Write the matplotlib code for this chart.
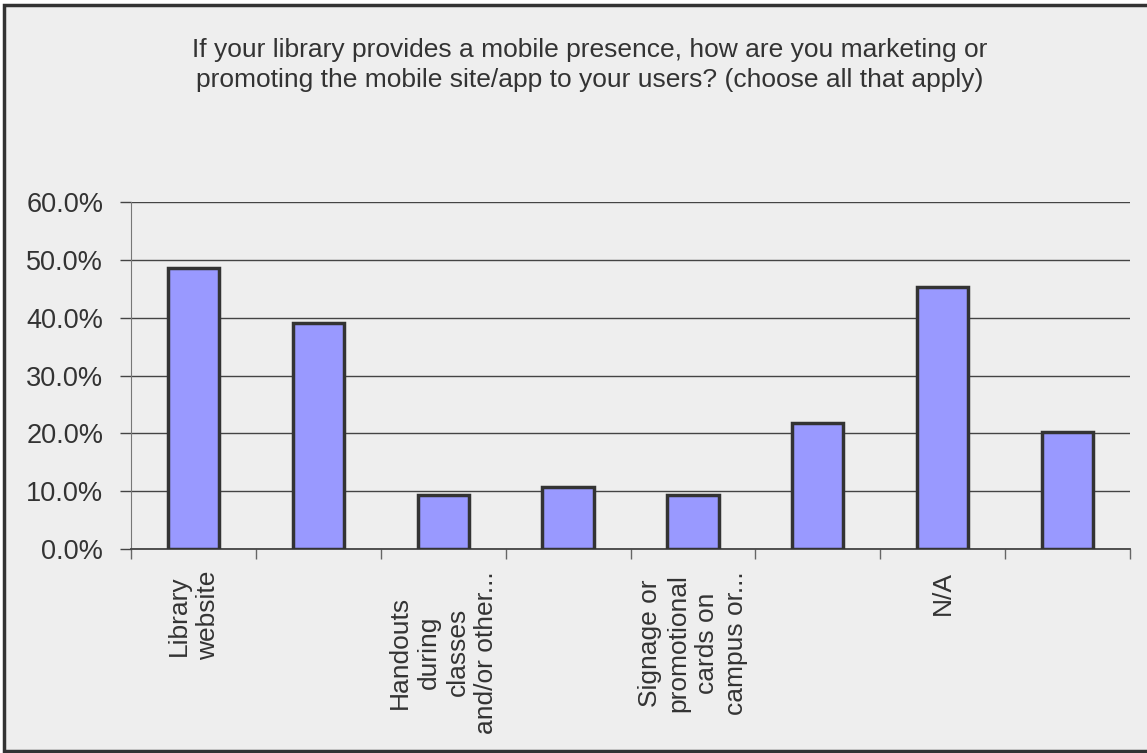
import numpy as np
import matplotlib.pyplot as plt
from matplotlib.patches import Rectangle
from matplotlib.ticker import PercentFormatter

# survey answers (only every other label is printed on the axis)
categories = [
    "Library\nwebsite",
    "",
    "Handouts\nduring\nclasses\nand/or other...",
    "",
    "Signage or\npromotional\ncards on\ncampus or...",
    "",
    "N/A",
    "",
]
shares = [0.486, 0.391, 0.093, 0.108, 0.093, 0.218, 0.453, 0.202]
y_ticks = [0.0, 0.1, 0.2, 0.3, 0.4, 0.5, 0.6]

TITLE = ("If your library provides a mobile presence, how are you marketing or\n"
         "promoting the mobile site/app to your users? (choose all that apply)")

BG = "#eeeeee"
TEXT = "#333333"

fig = plt.figure(figsize=(11.47, 7.53), dpi=100, facecolor="white")

# outer chart frame, kept behind the axes
fig.patches.append(Rectangle((4 / 1147, 2 / 753), 1.01, 746 / 753,
                             transform=fig.transFigure, facecolor=BG,
                             edgecolor="#333333", linewidth=2.5, zorder=-5))

ax = fig.add_axes([131 / 1147, 1 - 549 / 753, 999 / 1147, 347 / 753])
ax.set_facecolor(BG)

x = np.arange(len(shares))
ax.bar(x, shares, width=0.41, color="#9999ff", edgecolor="#333333",
       linewidth=2.5, zorder=3)

ax.set_xlim(-0.5, len(shares) - 0.5)
ax.set_ylim(0, 0.6)
ax.set_yticks(y_ticks)
ax.yaxis.set_major_formatter(PercentFormatter(1.0, decimals=1))
ax.grid(axis="y", color="#444444", linewidth=1, zorder=1)

# ticks sit on the category boundaries
ax.set_xticks(np.arange(len(shares) + 1) - 0.5)
ax.set_xticklabels([])
ax.tick_params(axis="x", length=7, width=1, color="#666666")
ax.tick_params(axis="y", length=8, width=1, color="#444444",
               labelsize=19.5, labelcolor=TEXT, pad=12)
for lbl in ax.get_yticklabels():
    lbl.set_family(["Liberation Sans", "DejaVu Sans"])

for s in ["top", "right"]:
    ax.spines[s].set_visible(False)
ax.spines["left"].set_color("#777777")
ax.spines["bottom"].set_color("#444444")
ax.spines["bottom"].set_linewidth(1.3)

# rotated category labels under their bars
for xi, name in zip(x, categories):
    if not name:
        continue
    ax.annotate(name, xy=(xi, 0), xycoords=("data", "axes fraction"),
                xytext=(0, -22), textcoords="offset pixels",
                rotation=90, ha="center", va="top", multialignment="center",
                fontsize=19, color=TEXT, linespacing=1.24,
                family=["Liberation Sans", "DejaVu Sans"])

fig.text(590 / 1147, 1 - 65 / 753, TITLE, ha="center", va="center",
         fontsize=19, color=TEXT, linespacing=1.28,
         family=["Liberation Sans Narrow", "Liberation Sans", "DejaVu Sans"])

fig.savefig("out.png", dpi=100, facecolor="white")
